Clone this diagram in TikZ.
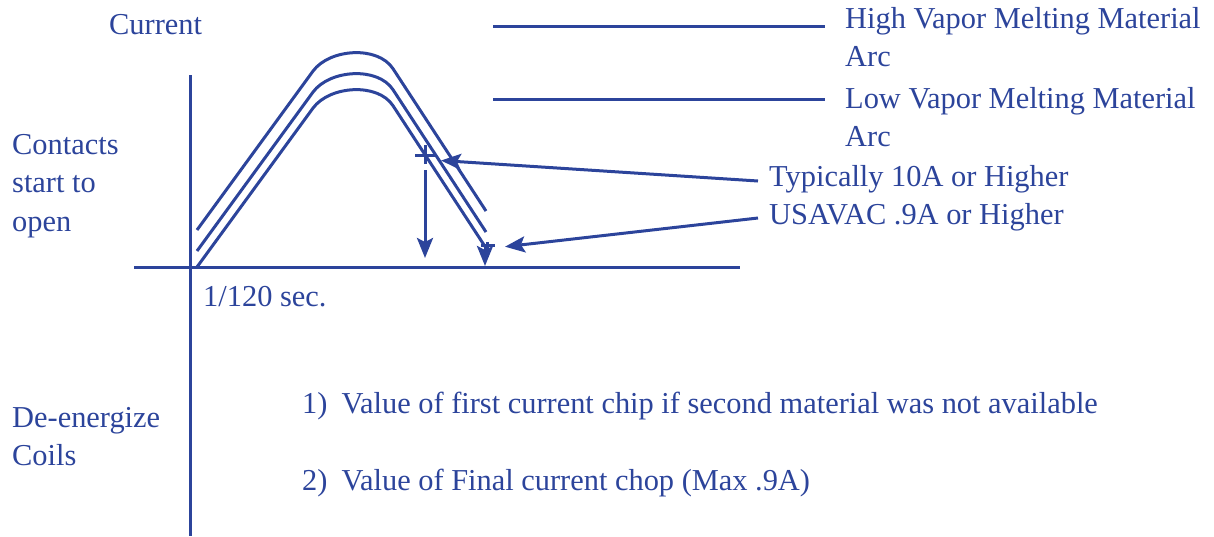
\documentclass[tikz,border=0pt]{standalone}
\usepackage{fontspec}
\setmainfont{Liberation Serif}
\usetikzlibrary{arrows.meta}
\definecolor{ink}{RGB}{44,68,155}
\begin{document}
\begin{tikzpicture}[x=1pt,y=-1pt,
  lbl/.style={anchor=base west,inner sep=0pt,text=ink,font=\fontsize{30.4}{38}\selectfont},
  ln/.style={draw=ink,line width=3pt},
  arr/.style={ln,-{Stealth[length=20pt,width=16pt,inset=4pt]}}]
\useasboundingbox (0,0) rectangle (1214,536);
% axes
\coordinate (yTop) at (190,75);
\coordinate (yBot) at (190,536);
\coordinate (xL) at (134,267);
\coordinate (xR) at (740,267);
\draw[ln] (yTop) -- (yBot);
\draw[ln] (xL) -- (xR);
% arc curves (outer, middle, inner)
\foreach \s in {0,21,37}{
  \draw[ln,shift={(0,\s)}] (197,230) -- (313,71.1)
     .. controls (329.5,48.6) and (377.7,45.3) .. (393,68.7) -- (486,211);
}
% cross marks
\coordinate (crossA) at (425,155);
\coordinate (crossB) at (487,245);
\draw[ln] ([xshift=-10pt]crossA) -- ([xshift=12pt]crossA);
\draw[ln] ([yshift=-9pt]crossA) -- ([yshift=10pt]crossA);
\draw[ln] ([xshift=-6pt]crossB) -- ([xshift=8pt]crossB);
\draw[ln] ([yshift=-5pt]crossB) -- ([yshift=3pt]crossB);
% drop arrows
\coordinate (dropA) at (425,170);
\coordinate (dropAend) at (425,258);
\coordinate (dropB) at (485,247);
\coordinate (dropBend) at (485,266);
\draw[arr] (dropA) -- (dropAend);
\draw[arr] (dropB) -- (dropBend);
% legend lines
\coordinate (h1s) at (493,26);  \coordinate (h1e) at (825,26);
\coordinate (h2s) at (493,99);  \coordinate (h2e) at (825,99);
\draw[ln] (h1s) -- (h1e);
\draw[ln] (h2s) -- (h2e);
% texts
\node[lbl] (cur) at (109,34.3) {Current};
\node[lbl] (hv1) at (845,28.3) {High Vapor Melting Material};
\node[lbl] (hv2) at (845,66) {Arc};
\node[lbl] (lv1) at (845,108.3) {Low Vapor Melting Material};
\node[lbl] (lv2) at (845,146) {Arc};
\node[lbl] (typ) at (769,186) {Typically 10A or Higher};
\node[lbl] (usa) at (769,224) {USAVAC .9A or Higher};
\node[lbl] (co1) at (12,154.3) {Contacts};
\node[lbl] (co2) at (12,192.7) {start to};
\node[lbl] (co3) at (12,231) {open};
\node[lbl] (sec) at (203,306) {1/120 sec.};
\node[lbl] (de1) at (12,427.7) {De-energize};
\node[lbl] (de2) at (12,465) {Coils};
\node[lbl] (n1) at (302,413.3) {1)\hspace{14pt}Value of first current chip if second material was not available};
\node[lbl] (n2) at (302,490) {2)\hspace{14pt}Value of Final current chop (Max .9A)};
% label arrows
\coordinate (typS) at (758,181);
\coordinate (typT) at (441,160.5);
\coordinate (usaS) at (758,218);
\coordinate (usaT) at (505,246.7);
\draw[arr] (typS) -- (typT);
\draw[arr] (usaS) -- (usaT);
\end{tikzpicture}
\end{document}
